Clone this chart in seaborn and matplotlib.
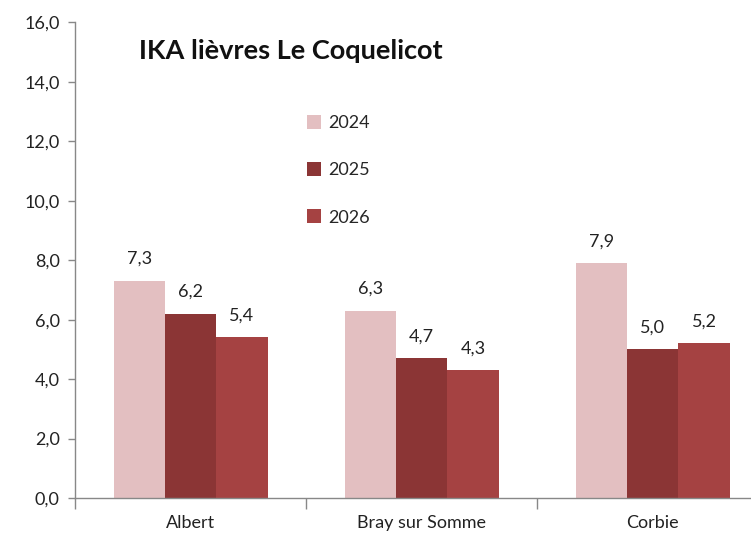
import matplotlib
matplotlib.use("Agg")
import matplotlib.pyplot as plt
import pandas as pd
import seaborn as sns
from matplotlib.ticker import FixedLocator, FuncFormatter

# ==========================================================
# Data
# ==========================================================

communes = ["Albert", "Bray sur Somme", "Corbie"]
years = ["2024", "2025", "2026"]
ika_2024 = [7.3, 6.3, 7.9]
ika_2025 = [6.2, 4.7, 5.0]
ika_2026 = [5.4, 4.3, 5.2]

colors = ["#E3BFC1", "#8B3535", "#A54242"]

rows = []
for year, values in zip(years, [ika_2024, ika_2025, ika_2026]):
    for commune, value in zip(communes, values):
        rows.append({"commune": commune, "annee": year, "ika": value})
df = pd.DataFrame(rows)

# ==========================================================
# Plot
# ==========================================================

sns.set_theme(style="white")
plt.rcParams["font.family"] = ["Lato", "DejaVu Sans"]

fig = plt.figure(figsize=(7.51, 5.42), dpi=100)
ax = fig.add_axes([0.1, 0.081, 0.923, 0.878])

sns.barplot(
    data=df,
    x="commune",
    y="ika",
    hue="annee",
    hue_order=years,
    palette=colors,
    width=0.667,
    saturation=1,
    edgecolor="none",
    ax=ax,
)

for container in ax.containers:
    ax.bar_label(
        container,
        labels=[f"{v:.1f}".replace(".", ",") for v in container.datavalues],
        padding=10,
        fontsize=13,
        color="#222222",
    )

ax.set_ylim(0, 16)
ax.set_xlim(-0.5, 2.5)
ax.set_yticks([0, 2, 4, 6, 8, 10, 12, 14, 16])
ax.yaxis.set_major_formatter(FuncFormatter(lambda v, _: f"{v:.1f}".replace(".", ",")))
ax.xaxis.set_minor_locator(FixedLocator([-0.5, 0.5, 1.5]))
ax.tick_params(axis="y", which="major", direction="out", length=5, width=1,
               color="#888888", labelsize=13, labelcolor="#222222", left=True, pad=6)
ax.tick_params(axis="x", which="major", length=0, labelsize=13,
               labelcolor="#222222", pad=12)
ax.tick_params(axis="x", which="minor", direction="out", length=8, width=1,
               color="#888888", bottom=True)
ax.set_xlabel("")
ax.set_ylabel("")

for side in ["top", "right"]:
    ax.spines[side].set_visible(False)
for side in ["left", "bottom"]:
    ax.spines[side].set_color("#888888")
    ax.spines[side].set_linewidth(1)

ax.legend(
    loc="upper left",
    bbox_to_anchor=(0.387, 0.818),
    bbox_transform=fig.transFigure,
    frameon=False,
    fontsize=13,
    handlelength=0.8,
    handleheight=0.8,
    handletextpad=0.4,
    labelspacing=1.72,
    title=None,
)

fig.text(0.185, 0.905, "IKA lièvres Le Coquelicot", fontsize=19.5,
         fontweight="bold", color="#111111", va="center")

fig.savefig("out.png", dpi=100)
